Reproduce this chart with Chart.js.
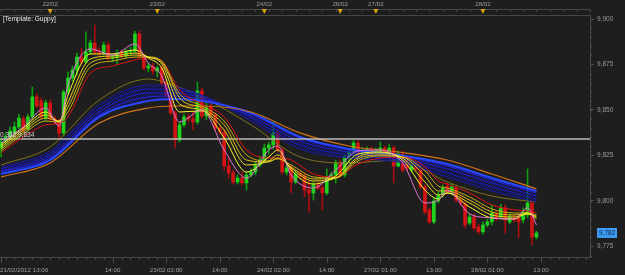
<!DOCTYPE html>
<html>
<head>
<meta charset="utf-8">
<script src="https://cdn.jsdelivr.net/npm/chart.js@4.4.1/dist/chart.umd.min.js"></script>
<style>
  html, body { margin: 0; padding: 0; background: #1e1e1e; }
  canvas { display: block; }
</style>
</head>
<body>
<canvas id="c" width="625" height="275"></canvas>
<script>
// ---- data (hourly candles, 21/02/2012 13:00 -> 28/02 13:00) -------------
const opens = [
  9829.1, 9832.9, 9835.2, 9837.4, 9840.7, 9845.1, 9839.6, 9846.2, 9857.2, 9855.0,
  9845.6, 9853.9, 9845.1, 9843.9, 9837.4, 9859.9, 9867.6, 9872.0, 9879.1, 9876.4,
  9881.9, 9886.8, 9881.9, 9881.3, 9885.7, 9878.6, 9879.1, 9881.3, 9879.7, 9881.9,
  9882.4, 9891.8, 9879.7, 9873.1, 9874.2, 9871.4, 9873.1, 9864.8, 9857.7, 9848.4,
  9833.5, 9841.8, 9846.2, 9845.1, 9843.4, 9860.5, 9846.7, 9852.2, 9847.3, 9840.1,
  9837.9, 9819.2, 9815.4, 9810.4, 9812.6, 9809.9, 9814.3, 9815.9, 9819.8, 9822.5,
  9829.1, 9830.8, 9837.4, 9828.0, 9815.9, 9818.1, 9810.4, 9814.8, 9813.7, 9806.0,
  9804.4, 9808.8, 9807.1, 9804.4, 9813.2, 9814.3, 9820.9, 9814.3, 9824.2, 9826.9,
  9831.9, 9825.8, 9827.5, 9828.0, 9826.9, 9827.5, 9829.1, 9825.3, 9829.1, 9819.2,
  9825.8, 9822.5, 9817.0, 9819.2, 9817.0, 9807.7, 9795.1, 9788.5, 9800.0, 9803.8,
  9808.2, 9804.9, 9807.1, 9800.5, 9798.3, 9787.9, 9791.2, 9785.7, 9783.0, 9786.8,
  9788.5, 9792.9, 9791.2, 9796.2, 9788.5, 9790.7, 9790.7, 9789.6, 9792.3, 9798.9,
  9780.2
];
const highs = [
  9834.6, 9837.4, 9840.7, 9843.4, 9847.8, 9846.7, 9847.8, 9862.6, 9858.8, 9856.6,
  9855.5, 9855.5, 9846.7, 9845.1, 9861.0, 9870.9, 9874.2, 9881.3, 9884.1, 9892.9,
  9888.5, 9896.7, 9884.1, 9887.4, 9887.4, 9880.8, 9883.0, 9883.0, 9883.5, 9884.6,
  9893.4, 9893.4, 9880.2, 9875.8, 9875.8, 9874.2, 9874.2, 9866.5, 9858.8, 9849.5,
  9843.4, 9847.8, 9847.8, 9848.9, 9865.4, 9862.1, 9853.9, 9853.9, 9848.4, 9841.2,
  9839.0, 9823.6, 9817.0, 9814.3, 9815.9, 9815.9, 9817.6, 9821.4, 9824.7, 9831.3,
  9832.4, 9843.4, 9839.0, 9829.1, 9819.8, 9819.8, 9816.5, 9816.5, 9815.4, 9811.0,
  9810.4, 9810.4, 9808.8, 9817.6, 9815.9, 9822.5, 9822.5, 9825.3, 9828.6, 9833.5,
  9833.5, 9829.1, 9829.7, 9829.7, 9829.1, 9832.4, 9830.2, 9831.3, 9830.2, 9827.5,
  9827.5, 9823.6, 9821.4, 9820.3, 9818.1, 9808.8, 9796.2, 9801.6, 9804.9, 9808.8,
  9809.9, 9809.3, 9808.2, 9802.2, 9799.4, 9792.9, 9792.9, 9787.4, 9788.5, 9790.1,
  9797.8, 9794.5, 9798.3, 9797.8, 9792.9, 9792.3, 9792.3, 9796.2, 9817.6, 9800.5,
  9783.5
];
const lows = [
  9824.2, 9831.3, 9834.1, 9836.3, 9839.6, 9837.9, 9838.5, 9845.1, 9851.1, 9845.1,
  9843.9, 9843.9, 9842.3, 9834.6, 9835.7, 9858.8, 9865.9, 9869.2, 9875.3, 9875.3,
  9880.8, 9880.8, 9879.7, 9880.2, 9877.5, 9876.4, 9875.3, 9878.6, 9878.6, 9880.2,
  9881.3, 9878.6, 9872.0, 9870.9, 9869.8, 9868.1, 9863.7, 9856.1, 9847.3, 9829.1,
  9832.4, 9840.7, 9843.4, 9839.0, 9842.3, 9845.6, 9844.5, 9846.2, 9839.0, 9836.8,
  9817.0, 9812.6, 9809.3, 9809.3, 9808.8, 9806.0, 9813.2, 9814.3, 9818.7, 9821.4,
  9825.8, 9828.6, 9826.9, 9814.8, 9814.3, 9804.4, 9809.3, 9812.1, 9802.2, 9793.9,
  9800.5, 9806.0, 9795.1, 9803.3, 9811.5, 9809.9, 9813.2, 9813.2, 9820.9, 9824.2,
  9824.2, 9824.7, 9823.1, 9825.8, 9825.3, 9823.6, 9824.2, 9823.6, 9809.9, 9818.7,
  9815.9, 9816.5, 9815.9, 9816.5, 9806.6, 9792.9, 9787.4, 9787.4, 9798.9, 9802.2,
  9803.8, 9803.8, 9799.4, 9797.2, 9785.2, 9786.8, 9784.1, 9781.9, 9781.9, 9785.7,
  9786.8, 9789.0, 9790.1, 9782.4, 9787.4, 9788.5, 9779.7, 9787.9, 9790.7, 9775.8,
  9779.1
];
const closes = [
  9832.4, 9835.2, 9838.5, 9840.7, 9845.6, 9839.0, 9846.2, 9857.2, 9852.2, 9846.2,
  9853.9, 9845.1, 9843.9, 9837.4, 9859.9, 9867.6, 9872.0, 9879.1, 9876.4, 9881.9,
  9886.8, 9881.9, 9881.3, 9885.7, 9878.6, 9879.1, 9881.3, 9879.7, 9881.9, 9882.4,
  9891.8, 9879.7, 9873.1, 9874.2, 9871.4, 9873.1, 9864.8, 9857.7, 9848.4, 9833.5,
  9841.8, 9846.2, 9845.1, 9843.4, 9860.5, 9846.7, 9852.2, 9847.3, 9840.1, 9837.9,
  9819.2, 9815.4, 9810.4, 9812.6, 9809.9, 9814.3, 9815.9, 9819.8, 9822.5, 9829.1,
  9830.8, 9837.4, 9828.0, 9815.9, 9818.1, 9810.4, 9814.8, 9813.7, 9806.0, 9804.4,
  9808.8, 9807.1, 9804.4, 9813.2, 9814.3, 9820.9, 9814.3, 9824.2, 9826.9, 9831.9,
  9825.8, 9827.5, 9828.0, 9826.9, 9827.5, 9829.1, 9825.3, 9829.1, 9819.2, 9825.8,
  9817.0, 9818.1, 9819.8, 9817.6, 9807.7, 9793.9, 9788.5, 9800.0, 9803.3, 9807.1,
  9804.9, 9807.7, 9800.5, 9798.9, 9786.8, 9791.2, 9785.2, 9783.0, 9786.8, 9788.5,
  9793.4, 9790.7, 9796.2, 9789.6, 9791.2, 9789.6, 9788.5, 9793.9, 9798.9, 9780.2,
  9782.4
];

// Guppy short group at these candle indices
const shortIdx = [0, 5, 10, 13, 15, 20, 25, 30, 33, 36, 40, 45, 50, 55, 60, 62, 65, 70, 75, 80, 85, 90, 95, 98, 100, 105, 110, 115, 118, 120];
const ema3 = [9831.9, 9840.7, 9851.1, 9841.2, 9863.7, 9883.5, 9880.2, 9886.3, 9875.8, 9868.7, 9843.4, 9850.0, 9828.0, 9812.6, 9828.0, 9830.2, 9814.3, 9807.1, 9817.0, 9827.5, 9828.0, 9820.9, 9798.9, 9800.5, 9806.0, 9792.9, 9790.7, 9790.1, 9796.2, 9786.8];
const ema5 = [9830.8, 9840.1, 9848.9, 9843.4, 9858.2, 9880.8, 9880.8, 9883.0, 9878.6, 9873.1, 9848.9, 9849.5, 9834.6, 9815.9, 9824.2, 9828.0, 9817.0, 9809.3, 9813.7, 9825.8, 9826.9, 9822.5, 9806.0, 9801.1, 9804.4, 9796.7, 9790.7, 9790.1, 9793.4, 9790.1];
const ema8 = [9829.7, 9839.0, 9847.3, 9843.9, 9854.4, 9878.0, 9879.7, 9881.3, 9879.1, 9875.3, 9853.3, 9850.0, 9839.0, 9819.8, 9822.0, 9825.3, 9818.1, 9811.0, 9812.6, 9824.2, 9826.4, 9823.6, 9810.4, 9803.3, 9804.4, 9798.9, 9792.3, 9791.2, 9792.9, 9791.2];
const ema10 = [9828.6, 9837.9, 9845.6, 9843.9, 9851.6, 9875.8, 9878.6, 9880.2, 9879.1, 9876.4, 9856.6, 9851.1, 9841.8, 9822.5, 9821.4, 9823.6, 9818.7, 9812.1, 9812.6, 9823.1, 9825.3, 9824.2, 9813.7, 9805.5, 9805.5, 9800.5, 9793.9, 9792.3, 9792.9, 9791.7];
const ema12 = [9827.5, 9836.8, 9843.9, 9843.4, 9848.9, 9873.6, 9876.9, 9879.1, 9879.1, 9876.9, 9858.8, 9852.2, 9843.9, 9825.3, 9822.0, 9823.1, 9819.8, 9813.2, 9812.6, 9822.0, 9824.7, 9824.2, 9816.5, 9808.2, 9807.1, 9802.2, 9795.6, 9793.4, 9793.4, 9792.3];
const ema15 = [9826.4, 9835.2, 9841.8, 9842.8, 9846.2, 9870.3, 9874.2, 9877.5, 9878.6, 9876.9, 9861.0, 9853.3, 9846.2, 9828.0, 9823.6, 9823.6, 9822.5, 9814.8, 9813.2, 9820.3, 9823.6, 9824.2, 9818.7, 9811.0, 9809.3, 9804.4, 9797.8, 9795.1, 9794.5, 9793.4];

// Guppy long group
const longIdx = [0, 11, 22, 33, 39, 45, 56, 67, 78, 89, 100, 110, 120];
const ema30 = [9819.8, 9829.7, 9855.5, 9867.0, 9863.2, 9857.2, 9841.8, 9824.2, 9820.9, 9822.5, 9810.4, 9802.7, 9799.4];
const ema35 = [9818.7, 9827.5, 9852.8, 9863.7, 9862.6, 9858.2, 9843.9, 9828.6, 9823.6, 9821.4, 9813.2, 9805.5, 9799.4];
const ema40 = [9817.6, 9825.8, 9850.6, 9861.5, 9861.0, 9857.7, 9845.6, 9830.8, 9825.3, 9822.5, 9815.4, 9807.7, 9801.1];
const ema45 = [9816.5, 9824.7, 9848.9, 9859.3, 9859.3, 9856.6, 9846.7, 9832.9, 9826.9, 9823.6, 9817.6, 9809.9, 9802.7];
const ema50 = [9815.9, 9823.6, 9847.3, 9857.2, 9857.7, 9855.5, 9847.8, 9834.6, 9828.0, 9824.7, 9819.2, 9811.5, 9804.4];
const ema55 = [9814.8, 9822.5, 9846.2, 9855.0, 9856.1, 9855.0, 9848.4, 9835.2, 9828.6, 9825.3, 9820.3, 9812.6, 9805.5];
const ema60 = [9813.2, 9820.9, 9842.8, 9851.1, 9852.2, 9852.2, 9848.9, 9837.4, 9830.2, 9826.9, 9822.5, 9814.8, 9806.6];

// axes
const xTickIdx = [0, 25, 37, 49, 61, 73, 85, 97, 109, 121];
const xTickLabels = ["21/02/2012 13:00", "14:00", "23/02 02:00", "14:00", "24/02 02:00", "14:00", "27/02 01:00", "13:00", "28/02 01:00", "13:00"];
const dayIdx = [11, 35, 59, 76, 84, 108];
const dayLabels = ["22/02", "23/02", "24/02", "26/02", "27/02", "28/02"];
const yTicks = [9775, 9800, 9825, 9850, 9875, 9900];
const xMin = -0.25, xMax = 132;
const yMin = 9769.2, yMax = 9902.2;
const fibValue = 9834;
const fibLabel = "0.382 9,834";

// ---- helpers ------------------------------------------------------------
const FONT = "'Liberation Sans', Arial, sans-serif";
Chart.defaults.font.family = FONT;

const canvas = document.getElementById("c");
// hatched fill for the long-term band
const pc = document.createElement("canvas");
pc.width = 3; pc.height = 3;
const pctx = pc.getContext("2d");
pctx.fillStyle = "rgba(10,10,70,0.35)";
pctx.fillRect(0, 0, 3, 3);
pctx.strokeStyle = "rgba(35,35,210,0.55)";
pctx.lineWidth = 1;
pctx.beginPath(); pctx.moveTo(0, 3); pctx.lineTo(3, 0); pctx.stroke();
const hatch = canvas.getContext("2d").createPattern(pc, "repeat");

function line(xs, ys, color, width, order, extra) {
  return Object.assign({
    type: "line",
    data: xs.map((x, k) => ({ x, y: ys[k] })),
    borderColor: color,
    borderWidth: width,
    pointRadius: 0,
    cubicInterpolationMode: "monotone",
    fill: false,
    order,
  }, extra || {});
}

const idx = closes.map((_, i) => i);
const up = closes.map((c, i) => c >= opens[i]);

const datasets = [
  {
    type: "bar", label: "wicks", grouped: false, order: 40,
    data: idx.map((i) => ({ x: i, y: [lows[i], highs[i]] })),
    backgroundColor: up.map((u) => (u ? "#0c9c0c" : "#a80c0c")),
    barThickness: 1, borderWidth: 0,
  },
  {
    type: "bar", label: "bodies", grouped: false, order: 39, minBarLength: 1,
    data: idx.map((i) => ({ x: i, y: [opens[i], closes[i]] })),
    backgroundColor: up.map((u) => (u ? "#1ed21e" : "#d21414")),
    barThickness: 3, borderWidth: 0,
  },
  line(longIdx, ema30, "#7c7220", 1, 26),
  line(longIdx, ema35, "#1a1a9c", 1, 25, { fill: { target: 7 }, backgroundColor: hatch }),
  line(longIdx, ema40, "#1c1cb4", 1, 24),
  line(longIdx, ema45, "#2020c8", 1, 23),
  line(longIdx, ema50, "#2424dc", 1, 22),
  line(longIdx, ema55, "#2a48ff", 2, 21),
  line(longIdx, ema60, "#d2731a", 1.2, 20),
  line([xMin, xMax], [fibValue, fibValue], "#bcbcbc", 1.5, 12, { cubicInterpolationMode: "default" }),
  line(shortIdx, ema15, "#e01212", 1, 6),
  line(shortIdx, ema12, "#c8ae12", 1, 5),
  line(shortIdx, ema10, "#dcc418", 1, 4),
  line(shortIdx, ema8, "#eedc20", 1, 3),
  line(shortIdx, ema5, "#ffff30", 1, 2),
  line(shortIdx, ema3, "#e67ad8", 1, 1),
];

// ---- decorations: frame, axes strips, labels ----------------------------
const deco = {
  id: "deco",
  beforeDraw(chart) {
    const c = chart.ctx;
    c.save();
    c.fillStyle = "#1e1e1e";
    c.fillRect(0, 0, chart.width, chart.height);
    c.restore();
  },
  afterDraw(chart) {
    const c = chart.ctx, a = chart.chartArea;
    const xs = chart.scales.x, ys = chart.scales.y;
    c.save();
    c.strokeStyle = "#464646";
    c.lineWidth = 1;

    // frame top / bottom
    c.beginPath();
    c.moveTo(0, a.top + 0.5); c.lineTo(a.right, a.top + 0.5);
    c.moveTo(0, a.bottom + 0.5); c.lineTo(a.right, a.bottom + 0.5);
    c.moveTo(0, 9.5); c.lineTo(a.right, 9.5);
    c.stroke();

    // top strip minor ticks
    c.beginPath();
    for (let i = 0; i <= xMax; i += 3) {
      const px = Math.round(xs.getPixelForValue(i)) + 0.5;
      c.moveTo(px, 9.5); c.lineTo(px, 12);
    }
    c.stroke();

    // day markers
    c.font = "6.2px " + FONT;
    c.textAlign = "center";
    c.textBaseline = "middle";
    dayIdx.forEach((d, k) => {
      const px = xs.getPixelForValue(d);
      c.fillStyle = "#d9a312";
      c.beginPath();
      c.moveTo(px - 2.5, 9); c.lineTo(px + 2.5, 9); c.lineTo(px, 14);
      c.closePath(); c.fill();
      c.fillStyle = "#9c9c9c";
      c.fillText(dayLabels[k], px, 4.5);
    });

    // bottom ticks
    c.strokeStyle = "#4c4c4c";
    c.beginPath();
    for (let i = 1; i <= xMax; i += 2) {
      const px = Math.round(xs.getPixelForValue(i)) + 0.5;
      c.moveTo(px, a.bottom); c.lineTo(px, a.bottom + 3);
    }
    xTickIdx.forEach((t) => {
      const px = Math.round(xs.getPixelForValue(t)) + 0.5;
      c.moveTo(px, a.bottom); c.lineTo(px, a.bottom + 6);
    });
    c.stroke();

    c.fillStyle = "#a0a0a0";
    xTickIdx.forEach((t, k) => {
      const px = xs.getPixelForValue(t);
      c.textAlign = k === 0 ? "left" : "center";
      c.fillText(xTickLabels[k], k === 0 ? 0 : px, 270);
    });

    // right axis minor ticks
    c.strokeStyle = "#4c4c4c";
    c.beginPath();
    for (let v = 9770; v <= 9900; v += 5) {
      const py = Math.round(ys.getPixelForValue(v)) + 0.5;
      c.moveTo(a.right, py); c.lineTo(a.right + 2, py);
    }
    c.stroke();

    // template caption
    c.textAlign = "left";
    c.fillStyle = "#e8e8e8";
    c.font = "6.5px " + FONT;
    c.fillText("[Template: Guppy]", 3, 19);

    // fibonacci label
    c.fillStyle = "#d4d4d4";
    c.fillText(fibLabel, 0, ys.getPixelForValue(fibValue) - 4);

    // last price box
    const last = closes[closes.length - 1];
    const py = ys.getPixelForValue(last);
    c.fillStyle = "#3d9cf2";
    c.fillRect(597, py - 5, 20, 10);
    c.fillStyle = "#0b2444";
    c.fillText(last.toLocaleString("en-US", { maximumFractionDigits: 0 }), 599, py + 0.5);
    c.restore();
  },
};

new Chart(canvas, {
  type: "bar",
  data: { datasets },
  options: {
    responsive: false,
    animation: false,
    devicePixelRatio: 1,
    layout: { padding: { top: 15, bottom: 18, left: 0, right: 0 } },
    plugins: { legend: { display: false }, tooltip: { enabled: false } },
    scales: {
      x: { type: "linear", min: xMin, max: xMax, offset: false, display: false },
      y: {
        position: "right",
        min: yMin,
        max: yMax,
        afterFit(s) { s.width = 35; },
        afterBuildTicks(s) { s.ticks = yTicks.map((v) => ({ value: v })); },
        ticks: {
          color: "#9a9a9a",
          font: { size: 6.5 },
          padding: 3,
          callback: (v) => v.toLocaleString("en-US"),
        },
        grid: { drawOnChartArea: false, color: "#4c4c4c", tickLength: 4 },
        border: { color: "#4c4c4c" },
      },
    },
  },
  plugins: [deco],
});
</script>
</body>
</html>
